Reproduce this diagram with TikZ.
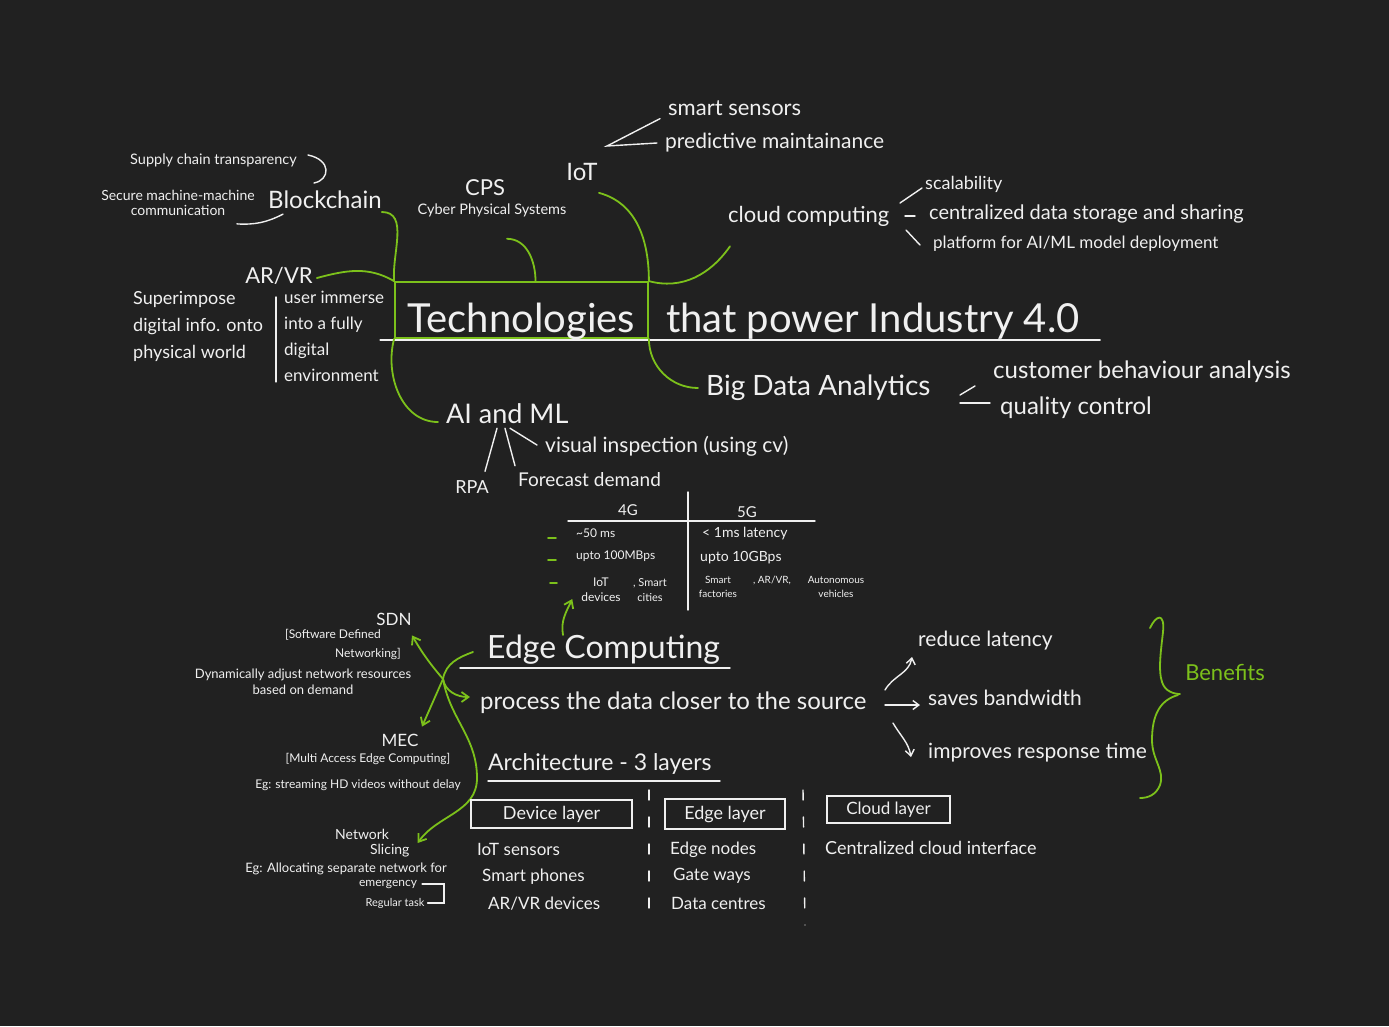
\documentclass[tikz,border=0pt]{standalone}
\usepackage{fontspec}
\setmainfont{Lato}
\usetikzlibrary{positioning,arrows.meta}
\definecolor{board}{HTML}{212121}
\definecolor{chalk}{HTML}{F0F0F0}
\definecolor{lime}{HTML}{7CC11B}
\tikzset{
  fs/.style={text=chalk, inner sep=0pt, font=\fontsize{#1}{#1}\selectfont},
  wline/.style={draw=chalk, line width=1.4pt, line cap=round},
  gline/.style={draw=lime, line width=1.8pt, line cap=round},
  garrow/.style={gline, -{Straight Barb[length=7pt,width=10pt]}},
  warrow/.style={wline, -{Straight Barb[length=6pt,width=9pt]}},
  layerbox/.style={draw=chalk, line width=1.4pt, inner sep=0pt},
}
\begin{document}
\begin{tikzpicture}[x=1pt,y=-1pt]
\fill[board] (0,0) rectangle (1389,1026);
\useasboundingbox (0,0) rectangle (1389,1026);

% title
\node[fs=40, draw=lime, line width=1.8pt, minimum width=253pt, minimum height=56pt,
      text height=48pt, text depth=4pt] (tech) at (521.5,310) {Technologies};
\node[fs=40, anchor=base west] (power) at ([xshift=17pt]tech.base east) {that power Industry 4.0};
\draw[wline] ([xshift=-14pt,yshift=-1pt]tech.south west) -- ++(720,0);

% blockchain
\node[fs=14.5, anchor=west] (supply) at (130,160) {Supply chain transparency};
\node[fs=14, align=center, font=\fontsize{14}{15}\selectfont] (secure) at (178,203) {Secure machine-machine\\communication};
\node[fs=24, anchor=west] (chain) at (268,200) {Blockchain};
\draw[wline] (308,155) .. controls (332,160) and (330,180) .. (314,183);
\draw[wline] ([xshift=-18pt,yshift=-8pt]secure.south east) to[bend right=15] ([xshift=15pt,yshift=-5pt]chain.south west);

% cps, iot
\node[fs=22] (cps) at (485,188) {CPS};
\node[fs=14.5] (cpsfull) at (492,210) {Cyber Physical Systems};
\node[fs=24] (iot) at (582,172) {IoT};
\node[fs=22, anchor=west] (sensors) at (668,108) {smart sensors};
\node[fs=21, anchor=west] (predict) at (665,143) {predictive maintainance};
\coordinate (vee) at (607,146);
\draw[wline] ([xshift=-8pt,yshift=-3pt]sensors.south west) -- (vee) -- ([xshift=-8pt]predict.west);

% cloud
\node[fs=22, anchor=west] (cloud) at (728,216) {cloud computing};
\node[fs=18, anchor=west] (scal) at (925,184) {scalability};
\node[fs=20, anchor=west] (central) at (929,214) {centralized data storage and sharing};
\node[fs=17, anchor=west] (platform) at (933,244) {platform for AI/ML model deployment};
\draw[wline] ([xshift=-25pt,yshift=-19pt]scal.west) -- ([xshift=-3pt,yshift=-4pt]scal.west);
\draw[wline] ([xshift=-24pt,yshift=-2pt]central.west) -- ([xshift=-14pt,yshift=-2pt]central.west);
\draw[wline] ([xshift=-27pt,yshift=14pt]platform.west) -- ([xshift=-13pt,yshift=-1pt]platform.west);

% ar/vr
\node[fs=22] (arvr) at (279,276) {AR/VR};
\node[fs=18, anchor=north west, align=left, font=\fontsize{18}{27}\selectfont] (superimpose) at (133,291) {Superimpose\\digital info. onto\\physical world};
\node[fs=17, anchor=north west, align=left, font=\fontsize{17}{26}\selectfont] (immerse) at (284,291) {user immerse\\into a fully\\digital\\environment};
\draw[wline] ([xshift=-8pt,yshift=-6pt]immerse.north west) -- ([xshift=-8pt]immerse.south west);

% ai and ml
\node[fs=27, anchor=west] (aiml) at (446,414) {AI and ML};
\node[fs=21, anchor=west] (visual) at (545,446) {visual inspection (using cv)};
\node[fs=18] (rpa) at (472,487) {RPA};
\node[fs=19, anchor=west] (forecast) at (518,480) {Forecast demand};
\draw[wline] ([xshift=51pt,yshift=-4pt]aiml.south west) -- ([xshift=13pt,yshift=9pt]rpa.north);
\draw[wline] ([xshift=59pt,yshift=-4pt]aiml.south west) -- ([xshift=-3pt,yshift=7pt]forecast.north west);
\draw[wline] ([xshift=64pt,yshift=-4pt]aiml.south west) -- ([xshift=-8pt,yshift=1pt]visual.west);

% big data
\node[fs=28, anchor=west] (bigdata) at (706,388) {Big Data Analytics};
\node[fs=24, anchor=west] (customer) at (993,372) {customer behaviour analysis};
\node[fs=24, anchor=west] (quality) at (1000,408) {quality control};
\draw[wline] ([xshift=-33pt,yshift=-23pt]customer.west) -- ([xshift=-18pt,yshift=-14pt]customer.west);
\draw[wline] ([xshift=-40pt,yshift=5pt]quality.west) -- ([xshift=-10pt,yshift=5pt]quality.west);

% branches
\draw[gline] ([yshift=-12pt]chain.east) to[out=0,in=95] (tech.north west);
\draw[gline] ([xshift=4pt,yshift=-2pt]arvr.east) to[out=15,in=150] (tech.north west);
\draw[gline] ([xshift=15pt,yshift=-22pt]cpsfull.south) to[out=0,in=90] ([xshift=14pt]tech.north);
\draw[gline] ([xshift=17pt,yshift=-12pt]iot.south) to[out=-15,in=90] (tech.north east);
\draw[gline] ([xshift=2pt,yshift=-20pt]cloud.south west) to[out=-125,in=-15] (tech.north east);
\draw[gline] (tech.south west) to[out=-105,in=180] ([xshift=-8pt,yshift=-8pt]aiml.west);
\draw[gline] (tech.south east) to[out=-90,in=180] ([xshift=-8pt]bigdata.west);

% 4G vs 5G
\node[fs=15] (g4) at (628,510) {4G};
\node[fs=15] (g5) at (747,512) {5G};
\draw[wline] (568,521) -- (815,521);
\draw[wline] (688,492) -- (688,610);
\node[fs=12, anchor=west] (lat4) at (576,533) {\textasciitilde 50 ms};
\node[fs=12, anchor=west] (rate4) at (576,556) {upto 100MBps};
\node[fs=12, align=center, font=\fontsize{12}{15}\selectfont] (use4a) at (601,590) {IoT\\devices};
\node[fs=11, align=center, font=\fontsize{11}{15}\selectfont] (use4b) at (650,590) {, Smart\\cities};
\node[fs=14, anchor=west] (lat5) at (702,534) {< 1ms latency};
\node[fs=14, anchor=west] (rate5) at (700,558) {upto 10GBps};
\node[fs=10, align=center, font=\fontsize{10}{14}\selectfont] (use5a) at (718,587) {Smart\\factories};
\node[fs=10] (use5b) at (772,580) {, AR/VR,};
\node[fs=10, align=center, font=\fontsize{10}{14}\selectfont] (use5c) at (836,587) {Autonomous\\vehicles};
\draw[gline] ([xshift=-28pt,yshift=-5pt]lat4.west) -- ++(8,0);
\draw[gline] ([xshift=-28pt,yshift=-4pt]rate4.west) -- ++(8,0);
\draw[gline] ([xshift=-26pt,yshift=-50pt]lat4.west) -- ++(7,0);

% edge computing
\node[fs=32, anchor=west] (edge) at (487,650) {Edge Computing};
\draw[wline] ([xshift=-27pt,yshift=-18pt]edge.west) -- ++(270,0);
\node[fs=24, anchor=west] (process) at (480,703) {process the data closer to the source};
\draw[garrow] ([xshift=76pt,yshift=15pt]edge.west) to[out=100,in=-115] ([xshift=-9pt,yshift=3pt]use4a.south west);

% benefits
\node[fs=21, anchor=west] (latency) at (918,641) {reduce latency};
\node[fs=21, anchor=west] (bandwidth) at (928,698) {saves bandwidth};
\node[fs=21, anchor=west] (response) at (928,753) {improves response time};
\draw[warrow] ([xshift=-33pt,yshift=-49pt]latency.west) to[out=60,in=-100] ([xshift=-6pt,yshift=-16pt]latency.west);
\draw[warrow] ([xshift=-43pt,yshift=-7pt]bandwidth.west) -- ([xshift=-8pt,yshift=-7pt]bandwidth.west);
\draw[warrow] ([xshift=-35pt,yshift=30pt]response.west) to[out=-60,in=100] ([xshift=-17pt,yshift=-4pt]response.west);
\node[fs=22, text=lime] (benefits) at (1225,672) {Benefits};
\draw[gline] (1150,628) .. controls (1156,615) and (1165,612) .. (1163,632)
  .. controls (1161,650) and (1158,670) .. (1162,682)
  .. controls (1165,692) and (1175,694) .. (1180,694);
\draw[gline] (1178,695) .. controls (1160,700) and (1152,715) .. (1152,740)
  .. controls (1152,760) and (1165,770) .. (1160,785)
  .. controls (1156,795) and (1148,798) .. (1140,798);

% sdn, mec, slicing
\node[fs=17] (sdn) at (394,619) {SDN};
\node[fs=12, anchor=north west, align=left, font=\fontsize{12}{19}\selectfont] (sdnfull) at (285,629) {[Software Defined\\\hspace*{50pt}Networking]};
\node[fs=13, align=center, font=\fontsize{13}{16}\selectfont] (dynamic) at (303,682) {Dynamically adjust network resources\\based on demand};
\node[fs=17] (mec) at (400,740) {MEC};
\node[fs=12] (mecfull) at (368,759) {[Multi Access Edge Computing]};
\node[fs=12] (mecex) at (358,785) {Eg: streaming HD videos without delay};
\node[fs=14, anchor=north west, align=left, font=\fontsize{14}{15}\selectfont] (slicing) at (335,829) {Network\\\hspace*{35pt}Slicing};
\node[fs=13] (sliceex) at (346,869) {Eg: Allocating separate network for};
\node[fs=12] (emergency) at (388,884) {emergency};
\node[fs=11] (regular) at (395,903) {Regular task};
\draw[wline] ([xshift=5pt]emergency.east) -- ++(22,0) |- ([xshift=3pt]regular.east);
\coordinate (hub) at (443,679);
\coordinate (sweep) at (477,778);
\draw[garrow] ([xshift=-14pt,yshift=-2pt]edge.west) to[out=200,in=80] (hub) to[out=-80,in=180] ([xshift=-10pt,yshift=6pt]process.west);
\draw[garrow] (hub) to[bend left=5] ([xshift=18pt,yshift=-10pt]sdn.south);
\draw[garrow] (hub) -- ([xshift=22pt,yshift=7pt]mec.north);
\draw[garrow] (hub) to[out=-80,in=90] (sweep) to[out=-90,in=55] ([xshift=8pt,yshift=-14pt]slicing.north east);

% architecture
\node[fs=23, anchor=west] (arch) at (488,764) {Architecture - 3 layers};
\draw[wline] ([yshift=-17pt]arch.west) -- ++(232,0);
\node[fs=18, layerbox, minimum width=161pt, minimum height=28pt] (device) at (551.5,814) {Device layer};
\node[fs=18, layerbox, minimum width=120pt, minimum height=30pt] (edgel) at (725,814) {Edge layer};
\node[fs=17, layerbox, minimum width=123pt, minimum height=27pt] (cloudl) at (888.5,809.5) {Cloud layer};
\node[fs=17, anchor=west] (iotsens) at (477,849) {IoT sensors};
\node[fs=17, anchor=west] (phones) at (482,877) {Smart phones};
\node[fs=17, anchor=west] (arvrdev) at (488,904) {AR/VR devices};
\node[fs=17, anchor=west] (enodes) at (670,850) {Edge nodes};
\node[fs=17, anchor=west] (gates) at (673,876) {Gate ways};
\node[fs=17, anchor=west] (centres) at (671,903) {Data centres};
\node[fs=18, anchor=west] (cdi) at (825,848) {Centralized cloud interface};
\draw[wline, dash pattern=on 10pt off 17pt] (649,790) -- (649,915);
\draw[wline, dash pattern=on 10pt off 17pt] (803,790) -- (805,925);
\end{tikzpicture}
\end{document}
